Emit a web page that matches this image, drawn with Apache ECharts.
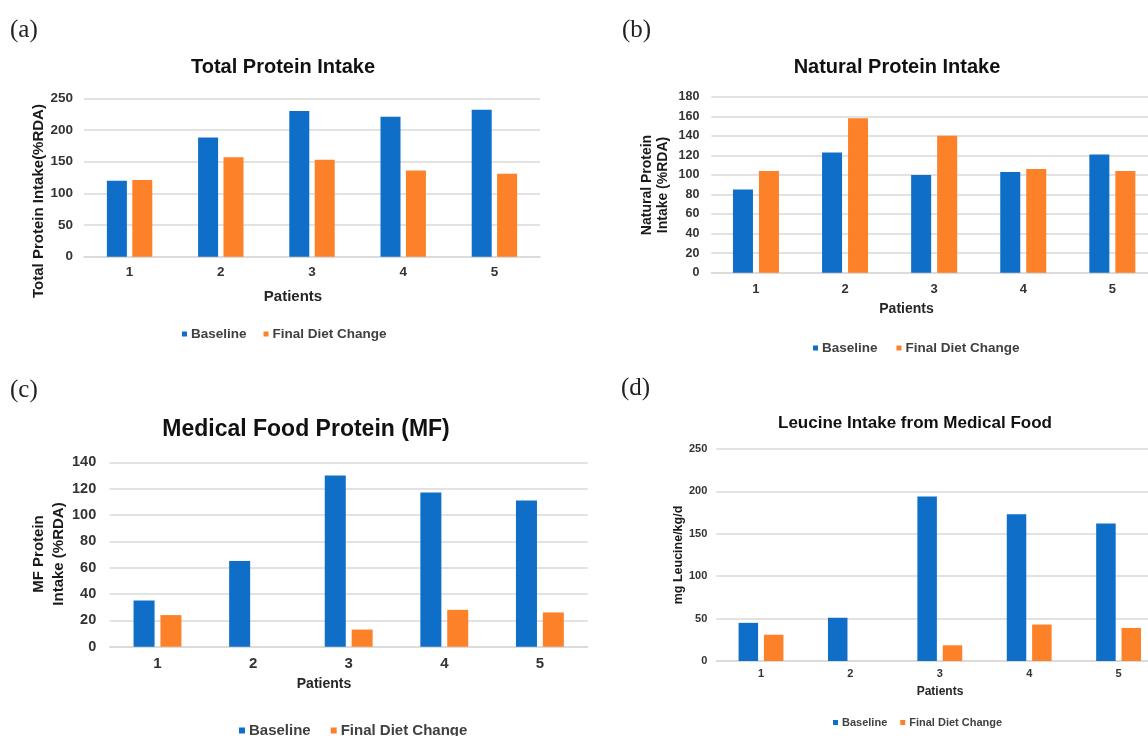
<!DOCTYPE html>
<html><head><meta charset="utf-8">
<script src="https://cdn.jsdelivr.net/npm/echarts@6/dist/echarts.min.js"></script>
<style>html,body{margin:0;padding:0;background:#fff}#c{width:1148px;height:736px}</style>
</head><body><div id="c"></div>
<script>
// ---- data ----
const patients = ['1', '2', '3', '4', '5'];
const seriesNames = ['Baseline', 'Final Diet Change'];
const totalBaseline = [120, 188, 230, 221, 232];
const totalFinal = [121, 157, 153, 136, 131];
const naturalBaseline = [85, 123, 100, 103, 121];
const naturalFinal = [104, 158, 140, 106, 104];
const mfBaseline = [35, 65, 130, 117, 111];
const mfFinal = [24, 0, 13, 28, 26];
const leucineBaseline = [45, 51, 194, 173, 162];
const leucineFinal = [31, 0, 18.5, 43, 39];
const titles = ['Total Protein Intake', 'Natural Protein Intake', 'Medical Food Protein (MF)', 'Leucine Intake from Medical Food'];
const yNames = ['Total Protein Intake(%RDA)', 'Natural Protein\nIntake (%RDA)', 'MF Protein\nIntake (%RDA)', 'mg Leucine/kg/d'];
const xName = 'Patients';
const panelLabels = ['(a)', '(b)', '(c)', '(d)'];

// ---- layout ----
const FONT = "'Liberation Sans', Arial, sans-serif";
const BLUE = '#0E6EC8', ORANGE = '#FD8128', GRID = '#d9d9d9', TXT = '#333333';
const panels = [
  { b: totalBaseline, f: totalFinal, max: 250, interval: 50,
    grid: { left: 84, right: 608, top: 98.3, bottom: 479.3 },
    tick: 13.5, tickMargin: 11, cat: 13.5, catMargin: 9, bw: 20, gap: '27%',
    title: { x: 283, y: 67, size: 20 }, yName: { x: 38.5, y: 201, size: 15, lh: 18 },
    xName: { x: 293, y: 297, size: 15 }, legend: { left: 182, top: 327, size: 13.5, gap: 17, icon: 5 },
    label: { x: 10, y: 30 } },
  { b: naturalBaseline, f: naturalFinal, max: 180, interval: 20,
    grid: { left: 711.4, right: -8.9, top: 96.7, bottom: 463.3 },
    tick: 12.5, tickMargin: 12, cat: 13, catMargin: 10, bw: 20, gap: '30%',
    title: { x: 897, y: 67, size: 20 }, yName: { x: 655, y: 185, size: 14, lh: 16 },
    xName: { x: 906.5, y: 309, size: 14 }, legend: { left: 813, top: 341, size: 13.5, gap: 19, icon: 5 },
    label: { x: 622, y: 30 } },
  { b: mfBaseline, f: mfFinal, max: 140, interval: 20,
    grid: { left: 109.7, right: 560.3, top: 462.3, bottom: 89.3 },
    tick: 14.5, tickMargin: 13.5, cat: 15, catMargin: 10, bw: 21, gap: '28%',
    title: { x: 306, y: 430, size: 23 }, yName: { x: 48.5, y: 554, size: 15, lh: 20 },
    xName: { x: 324, y: 684, size: 14 }, legend: { left: 239, top: 723, size: 15, gap: 20, icon: 6 },
    label: { x: 10, y: 390 } },
  { b: leucineBaseline, f: leucineFinal, max: 250, interval: 50,
    grid: { left: 716.3, right: -15.3, top: 449, bottom: 75 },
    tick: 11, tickMargin: 9, cat: 11, catMargin: 7.5, bw: 19.5, gap: '30%',
    title: { x: 915, y: 423, size: 17 }, yName: { x: 679, y: 555, size: 12.5, lh: 15 },
    xName: { x: 940, y: 692, size: 12 }, legend: { left: 833, top: 717, size: 11, gap: 13, icon: 5 },
    label: { x: 621, y: 388 } }
];

const option = {
  animation: false,
  backgroundColor: '#ffffff',
  textStyle: { fontFamily: FONT },
  grid: [], xAxis: [], yAxis: [], series: [], legend: [], graphic: []
};

panels.forEach((p, i) => {
  option.grid.push(Object.assign({ containLabel: false, outerBoundsMode: 'none' }, p.grid));
  option.xAxis.push({
    type: 'category', gridIndex: i, data: patients,
    axisLine: { lineStyle: { color: GRID, width: 1.5 } },
    axisTick: { show: false },
    axisLabel: { color: TXT, fontWeight: 'bold', fontSize: p.cat, margin: p.catMargin, fontFamily: FONT }
  });
  option.yAxis.push({
    type: 'value', gridIndex: i, min: 0, max: p.max, interval: p.interval,
    axisLine: { show: false }, axisTick: { show: false },
    splitLine: { lineStyle: { color: GRID, width: 1.5 } },
    axisLabel: { color: TXT, fontWeight: 'bold', fontSize: p.tick, margin: p.tickMargin, fontFamily: FONT }
  });
  option.series.push({
    name: seriesNames[0], type: 'bar', xAxisIndex: i, yAxisIndex: i, data: p.b,
    barWidth: p.bw, barGap: p.gap, itemStyle: { color: BLUE }
  });
  option.series.push({
    name: seriesNames[1], type: 'bar', xAxisIndex: i, yAxisIndex: i, data: p.f,
    barWidth: p.bw, barGap: p.gap, itemStyle: { color: ORANGE }
  });
  option.legend.push({
    data: seriesNames, left: p.legend.left, top: p.legend.top, icon: 'rect',
    itemWidth: p.legend.icon, itemHeight: p.legend.icon, itemGap: p.legend.gap,
    padding: 0, selectedMode: false,
    textStyle: { color: '#404040', fontWeight: 'bold', fontSize: p.legend.size, fontFamily: FONT, padding: [0, 0, 0, -1] }
  });
  option.graphic.push({
    type: 'text', x: p.title.x, y: p.title.y,
    style: { text: titles[i], font: 'bold ' + p.title.size + 'px ' + FONT, fill: '#111111', textAlign: 'center', textVerticalAlign: 'middle' }
  });
  option.graphic.push({
    type: 'text', x: p.yName.x, y: p.yName.y, rotation: Math.PI / 2,
    style: { text: yNames[i], font: 'bold ' + p.yName.size + 'px ' + FONT, fill: '#1a1a1a', textAlign: 'center', textVerticalAlign: 'middle', lineHeight: p.yName.lh }
  });
  option.graphic.push({
    type: 'text', x: p.xName.x, y: p.xName.y,
    style: { text: xName, font: 'bold ' + p.xName.size + 'px ' + FONT, fill: '#262626', textAlign: 'center', textVerticalAlign: 'middle' }
  });
  option.graphic.push({
    type: 'text', x: p.label.x, y: p.label.y,
    style: { text: panelLabels[i], font: '25px "Liberation Serif", "DejaVu Serif", serif', fill: '#222222', textAlign: 'left', textVerticalAlign: 'middle' }
  });
});

const chart = echarts.init(document.getElementById('c'), null, { renderer: 'canvas' });
chart.setOption(option);
</script>
</body></html>
